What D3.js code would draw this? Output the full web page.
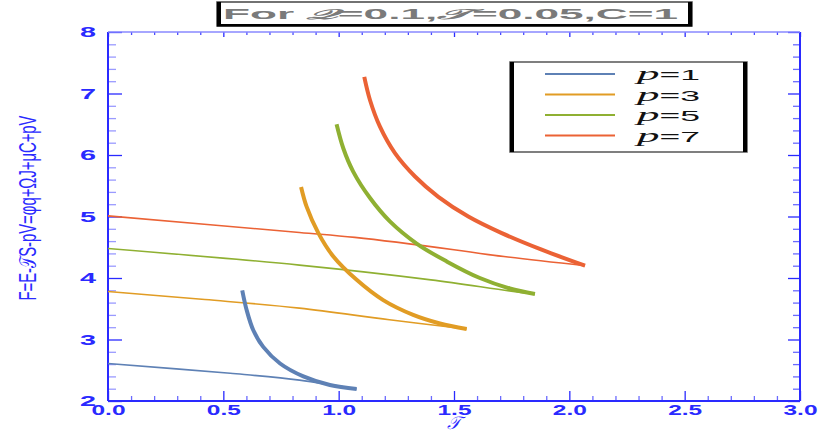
<!DOCTYPE html>
<html>
<head>
<meta charset="utf-8">
<script src="https://cdn.jsdelivr.net/npm/d3@7"></script>
<style>
  body { margin: 0; background: #fff; }
  svg { display: block; }
</style>
</head>
<body>
<svg id="chart"></svg>
<script>
// legend labels and colours
const seriesNames = ['p=1', 'p=3', 'p=5', 'p=7'];
const seriesColors = ['#5E81B5', '#E19C24', '#8FB032', '#EB6235'];

// lower branch (thin), [T, F]
const p1Thin = [[0, 2.61], [0.53, 2.45], [0.83, 2.34], [1.078, 2.195]];
const p3Thin = [[0, 3.78], [0.42, 3.65], [0.83, 3.51], [1.22, 3.32], [1.555, 3.17]];
const p5Thin = [[0, 4.48], [0.83, 4.21], [1.40, 3.97], [1.74, 3.79], [1.851, 3.74]];
const p7Thin = [[0, 5.01], [0.83, 4.74], [1.07, 4.66], [1.50, 4.46], [1.65, 4.38], [2.068, 4.20]];

// upper branch (thick), [T, F]
const p1Thick = [[0.582, 3.80], [0.601, 3.48], [0.630, 3.15], [0.673, 2.88], [0.746, 2.61],
                 [0.847, 2.40], [0.962, 2.26], [1.078, 2.195]];
const p3Thick = [[0.837, 5.48], [0.861, 5.16], [0.912, 4.73], [0.977, 4.35], [1.078, 3.97],
                 [1.193, 3.64], [1.323, 3.40], [1.439, 3.26], [1.555, 3.17]];
const p5Thick = [[0.991, 6.50], [1.020, 6.11], [1.063, 5.73], [1.136, 5.30], [1.222, 4.92],
                 [1.338, 4.56], [1.468, 4.27], [1.612, 4.00], [1.742, 3.83], [1.851, 3.74]];
const p7Thick = [[1.111, 7.27], [1.136, 6.89], [1.179, 6.46], [1.244, 6.03], [1.331, 5.65],
                 [1.432, 5.32], [1.562, 5.00], [1.707, 4.73], [1.880, 4.46], [2.068, 4.20]];

// ticks
const xMajor = [0, 0.5, 1, 1.5, 2, 2.5, 3];
const yMajor = [2, 3, 4, 5, 6, 7, 8];

const width = 830, height = 436;
const margin = { top: 32, right: 30, bottom: 35, left: 108 };
const innerWidth = width - margin.left - margin.right;   // 692
const innerHeight = height - margin.top - margin.bottom; // 369

const axisBlue = '#2a2aff';

const svg = d3.select('#chart')
  .attr('width', width)
  .attr('height', height);

const g = svg.append('g')
  .attr('transform', `translate(${margin.left},${margin.top})`);

const x = d3.scaleLinear().domain([0, 3]).range([0, innerWidth]);
const y = d3.scaleLinear().domain([2, 8]).range([innerHeight, 0]);

const xMinor = d3.range(0, 3.0001, 0.1).map(v => +v.toFixed(2)).filter(v => !xMajor.includes(v));
const yMinor = d3.range(2, 8.0001, 0.2).map(v => +v.toFixed(2)).filter(v => !yMajor.includes(v));

function styleAxis(sel, color) {
  sel.select('.domain').remove();
  sel.selectAll('.tick line').attr('stroke', color).attr('stroke-width', 1.3);
}

// minor ticks (lighter)
g.append('g').call(d3.axisLeft(y).tickValues(yMinor).tickSize(-8).tickFormat(''))
  .call(s => styleAxis(s, '#9a9aff'));
g.append('g').attr('transform', `translate(${innerWidth},0)`)
  .call(d3.axisRight(y).tickValues(yMinor).tickSize(-7).tickFormat(''))
  .call(s => styleAxis(s, '#6a6aff'));
g.append('g').attr('transform', `translate(0,${innerHeight})`)
  .call(d3.axisBottom(x).tickValues(xMinor).tickSize(-5).tickFormat(''))
  .call(s => styleAxis(s, '#6a6aff'));
g.append('g')
  .call(d3.axisTop(x).tickValues(xMinor).tickSize(-3).tickFormat(''))
  .call(s => styleAxis(s, '#4a4aff'));

// major ticks
const yAxis = g.append('g')
  .call(d3.axisLeft(y).tickValues(yMajor).tickSizeInner(-14).tickSizeOuter(0).tickPadding(12)
    .tickFormat(d3.format('d')))
  .call(s => styleAxis(s, axisBlue));
yAxis.selectAll('text')
  .attr('font-family', 'Liberation Sans, Arial, sans-serif')
  .attr('font-weight', 'bold')
  .attr('font-size', 15)
  .attr('fill', axisBlue)
  .attr('textLength', 16)
  .attr('lengthAdjust', 'spacingAndGlyphs');

const xAxis = g.append('g').attr('transform', `translate(0,${innerHeight})`)
  .call(d3.axisBottom(x).tickValues(xMajor).tickSizeInner(-10).tickSizeOuter(0).tickPadding(3)
    .tickFormat(d3.format('.1f')))
  .call(s => styleAxis(s, axisBlue));
xAxis.selectAll('text')
  .attr('font-family', 'Liberation Sans, Arial, sans-serif')
  .attr('font-weight', 'bold')
  .attr('font-size', 15)
  .attr('fill', axisBlue)
  .attr('textLength', 34)
  .attr('lengthAdjust', 'spacingAndGlyphs');

g.append('g').attr('transform', `translate(${innerWidth},0)`)
  .call(d3.axisRight(y).tickValues(yMajor).tickSize(-12).tickFormat(''))
  .call(s => styleAxis(s, axisBlue));
g.append('g')
  .call(d3.axisTop(x).tickValues(xMajor).tickSize(-5).tickFormat(''))
  .call(s => styleAxis(s, axisBlue));

// frame
g.append('line').attr('x1', 0).attr('x2', 0).attr('y1', 0).attr('y2', innerHeight)
  .attr('stroke', axisBlue).attr('stroke-width', 2);
g.append('line').attr('x1', 0).attr('x2', innerWidth).attr('y1', innerHeight).attr('y2', innerHeight)
  .attr('stroke', axisBlue).attr('stroke-width', 2);
g.append('line').attr('x1', innerWidth).attr('x2', innerWidth).attr('y1', 0).attr('y2', innerHeight)
  .attr('stroke', axisBlue).attr('stroke-width', 2);
g.append('line').attr('x1', 0).attr('x2', innerWidth).attr('y1', 0).attr('y2', 0)
  .attr('stroke', '#8888ff').attr('stroke-width', 1.5);

// curves
const line = d3.line()
  .x(d => x(d[0]))
  .y(d => y(d[1]))
  .curve(d3.curveCatmullRom.alpha(0.5));

const thinBranches = [p1Thin, p3Thin, p5Thin, p7Thin];
const thickBranches = [p1Thick, p3Thick, p5Thick, p7Thick];

g.selectAll('.thin')
  .data(thinBranches)
  .enter()
  .append('path')
  .attr('class', 'thin')
  .attr('d', line)
  .attr('fill', 'none')
  .attr('stroke', (d, i) => seriesColors[i])
  .attr('stroke-width', 1.6);

g.selectAll('.thick')
  .data(thickBranches)
  .enter()
  .append('path')
  .attr('class', 'thick')
  .attr('d', line)
  .attr('fill', 'none')
  .attr('stroke', (d, i) => seriesColors[i])
  .attr('stroke-width', 4);

// legend box
const legend = svg.append('g').attr('transform', 'translate(510,62)');
legend.append('rect')
  .attr('width', 237).attr('height', 90)
  .attr('fill', '#fff').attr('stroke', '#555').attr('stroke-width', 1.5);
legend.append('rect').attr('x', 0).attr('y', 0).attr('width', 4).attr('height', 90).attr('fill', '#000');
legend.append('rect').attr('x', 233).attr('y', 0).attr('width', 4).attr('height', 90).attr('fill', '#000');

const items = legend.selectAll('.item')
  .data(seriesNames)
  .enter()
  .append('g')
  .attr('class', 'item')
  .attr('transform', (d, i) => `translate(0,${12 + i * 20.5})`);

items.append('line')
  .attr('x1', 35).attr('x2', 105)
  .attr('stroke', (d, i) => seriesColors[i])
  .attr('stroke-width', 1.8);

const labels = items.append('text')
  .attr('x', 127).attr('y', 6)
  .attr('font-family', 'Liberation Sans, Arial, sans-serif')
  .attr('font-size', 15)
  .attr('fill', '#111')
  .attr('textLength', 63)
  .attr('lengthAdjust', 'spacingAndGlyphs');
labels.append('tspan')
  .attr('font-family', 'Liberation Serif, serif')
  .attr('font-style', 'italic')
  .attr('font-size', 19)
  .text(d => d.split('=')[0]);
labels.append('tspan')
  .text(d => '=' + d.split('=')[1]);

// title box
const title = svg.append('g').attr('transform', 'translate(217,2)');
title.append('rect')
  .attr('width', 475).attr('height', 24)
  .attr('fill', '#fff').attr('stroke', '#444').attr('stroke-width', 1.5);
title.append('rect').attr('x', 0).attr('y', 0).attr('width', 4).attr('height', 24).attr('fill', '#000');
title.append('rect').attr('x', 471).attr('y', 0).attr('width', 4).attr('height', 24).attr('fill', '#000');
title.append('rect').attr('x', 0).attr('y', 22).attr('width', 475).attr('height', 2.5).attr('fill', '#000');
const titleText = title.append('text')
  .attr('x', 6).attr('y', 17)
  .attr('font-family', 'Liberation Sans, Arial, sans-serif')
  .attr('font-weight', 'bold')
  .attr('font-size', 14)
  .attr('fill', '#7a7a7a')
  .attr('textLength', 455)
  .attr('lengthAdjust', 'spacingAndGlyphs');
titleText.append('tspan').text('For ');
titleText.append('tspan').attr('font-family', 'DejaVu Serif, serif').attr('font-style', 'italic').text('𝒬');
titleText.append('tspan').text('=0.1,');
titleText.append('tspan').attr('font-family', 'DejaVu Serif, serif').attr('font-style', 'italic').text('𝒯');
titleText.append('tspan').text('=0.05,C=1');

// axis labels
svg.append('text')
  .attr('x', margin.left + x(1.5))
  .attr('y', 429)
  .attr('text-anchor', 'middle')
  .attr('font-family', 'DejaVu Serif, serif')
  .attr('font-style', 'italic')
  .attr('font-size', 18)
  .attr('fill', axisBlue)
  .text('𝒯');

svg.append('text')
  .attr('transform', 'translate(36,208) rotate(-90)')
  .attr('text-anchor', 'middle')
  .attr('font-family', 'Liberation Sans, Arial, sans-serif')
  .attr('font-size', 24)
  .attr('fill', axisBlue)
  .attr('textLength', 185)
  .attr('lengthAdjust', 'spacingAndGlyphs')
  .text('F=E-𝒯S-pV=φq+ΩJ+μC+pV');
</script>
</body>
</html>
